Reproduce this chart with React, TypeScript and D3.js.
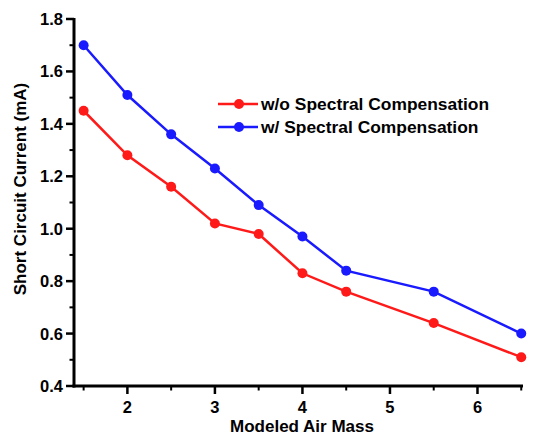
import React from "react";
import * as d3 from "d3";

const airMass = [1.5, 2, 2.5, 3, 3.5, 4, 4.5, 5.5, 6.5];
const withoutComp = [1.45, 1.28, 1.16, 1.02, 0.98, 0.83, 0.76, 0.64, 0.51];
const withComp = [1.7, 1.51, 1.36, 1.23, 1.09, 0.97, 0.84, 0.76, 0.6];
const seriesNames = ["w/o Spectral Compensation", "w/ Spectral Compensation"];
const seriesColors = ["#ff1a1a", "#1a1aff"];
const xMajorTicks = [2, 3, 4, 5, 6];
const xMinorTicks = [1.5, 2.5, 3.5, 4.5, 5.5, 6.5];
const yMajorTicks = [0.4, 0.6, 0.8, 1.0, 1.2, 1.4, 1.6, 1.8];
const yMinorTicks = [0.5, 0.7, 0.9, 1.1, 1.3, 1.5, 1.7];

const W = 533;
const H = 436;
const left = 74;
const right = 523;
const top = 19;
const bottom = 386;

export default function App() {
  const x = d3.scaleLinear().domain([1.39, 6.52]).range([left, right]);
  const y = d3.scaleLinear().domain([0.4, 1.8]).range([bottom, top]);
  const line = d3
    .line<[number, number]>()
    .x((d) => x(d[0]))
    .y((d) => y(d[1]));
  const series = [withoutComp, withComp];
  const font = "'Liberation Sans', Arial, sans-serif";

  return (
    <svg
      width={W}
      height={H}
      style={{ position: "absolute", left: 0, top: 0, background: "#fff" }}
      fontFamily={font}
      fontWeight="bold"
    >
      {series.map((vals, i) => {
        const pts = airMass.map((a, j) => [a, vals[j]] as [number, number]);
        return (
          <g key={i}>
            <path d={line(pts) || ""} fill="none" stroke={seriesColors[i]} strokeWidth={2.5} />
            {pts.map((p, j) => (
              <circle key={j} cx={x(p[0])} cy={y(p[1])} r={5} fill={seriesColors[i]} />
            ))}
          </g>
        );
      })}

      {/* axes */}
      <line x1={left} x2={left} y1={top - 1} y2={bottom + 1.5} stroke="#000" strokeWidth={3} />
      <line x1={left - 1.5} x2={right} y1={bottom} y2={bottom} stroke="#000" strokeWidth={3} />

      {yMajorTicks.map((t) => (
        <g key={"ym" + t}>
          <line x1={left - 8} x2={left} y1={y(t)} y2={y(t)} stroke="#000" strokeWidth={2.5} />
          <text x={left - 11} y={y(t)} dy="0.36em" textAnchor="end" fontSize={16.5}>
            {t.toFixed(1)}
          </text>
        </g>
      ))}
      {yMinorTicks.map((t) => (
        <line key={"yn" + t} x1={left - 4.5} x2={left} y1={y(t)} y2={y(t)} stroke="#000" strokeWidth={2} />
      ))}
      {xMajorTicks.map((t) => (
        <g key={"xm" + t}>
          <line x1={x(t)} x2={x(t)} y1={bottom} y2={bottom + 8} stroke="#000" strokeWidth={2.5} />
          <text x={x(t)} y={bottom + 27} textAnchor="middle" fontSize={16.5}>
            {t}
          </text>
        </g>
      ))}
      {xMinorTicks.map((t) => (
        <line key={"xn" + t} x1={x(t)} x2={x(t)} y1={bottom} y2={bottom + 4.5} stroke="#000" strokeWidth={2} />
      ))}

      <text x={302} y={432} textAnchor="middle" fontSize={17}>
        Modeled Air Mass
      </text>
      <text
        transform={`translate(26, 189) rotate(-90)`}
        textAnchor="middle"
        fontSize={17}
      >
        Short Circuit Current (mA)
      </text>

      {/* legend */}
      {seriesNames.map((name, i) => {
        const ly = 104 + i * 23;
        return (
          <g key={name}>
            <line x1={218} x2={258} y1={ly} y2={ly} stroke={seriesColors[i]} strokeWidth={2.5} />
            <circle cx={239} cy={ly} r={5} fill={seriesColors[i]} />
            <text x={261} y={ly} dy="0.36em" fontSize={17.4}>
              {name}
            </text>
          </g>
        );
      })}
    </svg>
  );
}
